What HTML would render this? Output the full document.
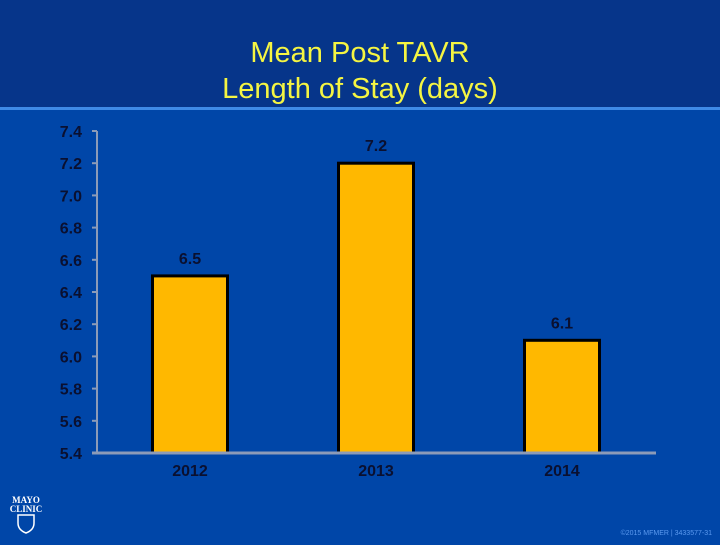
<!DOCTYPE html>
<html><head><meta charset="utf-8"><style>
body{margin:0;width:720px;height:540px;overflow:hidden;background:#0046a8;font-family:"Liberation Sans",sans-serif}
</style></head><body>
<svg id="c" width="720" height="540" xmlns="http://www.w3.org/2000/svg">
<rect x="0" y="0" width="720" height="107" fill="#06358a"/>
<rect x="0" y="107" width="720" height="3" fill="#3f8ae6"/>
<text x="360" y="62" text-anchor="middle" font-size="29" fill="#f5f542">Mean Post TAVR</text>
<text x="360" y="98" text-anchor="middle" font-size="29" fill="#f5f542">Length of Stay (days)</text>
<g id="plot"></g>
<text x="26" y="503" text-anchor="middle" font-size="9" font-weight="bold" fill="#fff" font-family="Liberation Serif,serif">MAYO</text>
<text x="26" y="512" text-anchor="middle" font-size="9" font-weight="bold" fill="#fff" font-family="Liberation Serif,serif">CLINIC</text>
<path d="M18 515 h16 v8 q0 7 -8 10 q-8 -3 -8 -10z" fill="none" stroke="#fff" stroke-width="1.5"/>
<text x="712" y="535" text-anchor="end" font-size="7" fill="#5b9af0">©2015 MFMER | 3433577-31</text>
</svg>
<script>
const categories=["2012","2013","2014"];
const values=[6.5,7.2,6.1];
const valueLabels=["6.5","7.2","6.1"];
const yTicks=[5.4,5.6,5.8,6.0,6.2,6.4,6.6,6.8,7.0,7.2,7.4];
const NS="http://www.w3.org/2000/svg";
const g=document.getElementById('plot');
const x0=97,x1=655,yTop=131,yBot=453,yMin=5.4,yMax=7.4;
const y=v=>yBot-(v-yMin)/(yMax-yMin)*(yBot-yTop);
const bw=(x1-x0)/categories.length;
const xc=i=>x0+bw*(i+0.5);
function mk(t,a){const e=document.createElementNS(NS,t);for(const k in a)e.setAttribute(k,a[k]);g.appendChild(e);return e;}
let ax=mk('line',{x1:x0,y1:yTop,x2:x0,y2:yBot,stroke:'#8c9bb8','stroke-width':2});


yTicks.forEach(v=>{
 let tk=mk('line',{x1:x0-5,y1:y(v),x2:x0,y2:y(v),stroke:'#8c9bb8','stroke-width':2});
 
 
 let t=mk('text',{x:82,y:y(v)+6,'text-anchor':'end','font-size':16,'font-weight':'bold',fill:'#0a1030'});
 t.textContent=v.toFixed(1);
 
 
});
categories.forEach((c,i)=>{
 const w=75;
 let r=mk('rect',{x:xc(i)-w/2,y:y(values[i]),width:w,height:yBot-y(values[i]),fill:'#ffb800',stroke:'#000','stroke-width':3});
 
 
 let vl=mk('text',{x:xc(i),y:y(values[i])-12,'text-anchor':'middle','font-size':16,'font-weight':'bold',fill:'#0a1030'});
 vl.textContent=valueLabels[i];
 
 
 let cl=mk('text',{x:xc(i),y:476,'text-anchor':'middle','font-size':16,'font-weight':'bold',fill:'#0a1030'});
 cl.textContent=c;
 
 
});
let bx=mk('line',{x1:92,y1:yBot,x2:656,y2:yBot,stroke:'#8c9bb8','stroke-width':3});


</script>
</body></html>
